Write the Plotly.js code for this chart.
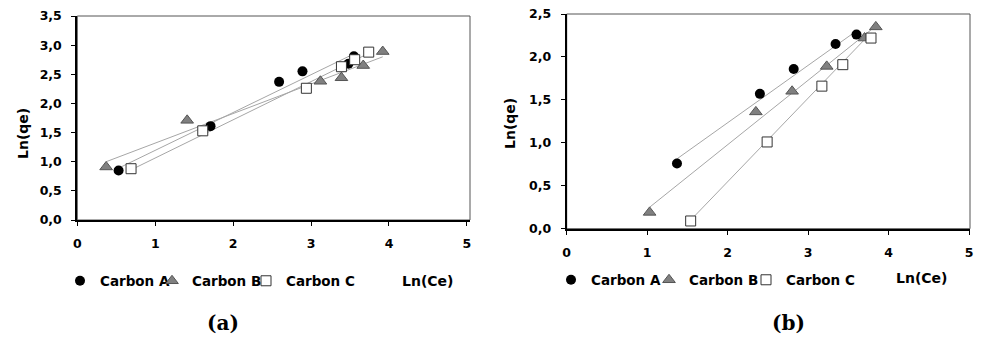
<!DOCTYPE html>
<html>
<head>
<meta charset="utf-8">
<script src="https://cdn.plot.ly/plotly-3.0.1.min.js"></script>
<style>html,body{margin:0;padding:0;background:#fff;}#chart{width:986px;height:338px;}</style>
</head>
<body>
<div id="chart"></div>
<script>
// ---------- Data ----------
var seriesNames = ["Carbon A", "Carbon B", "Carbon C"];
var xTicks = [0, 1, 2, 3, 4, 5];

// Panel (a)
var aA_x = [0.53, 1.71, 2.59, 2.89, 3.48, 3.55];
var aA_y = [0.85, 1.61, 2.37, 2.55, 2.68, 2.81];
var aB_x = [0.37, 1.41, 3.12, 3.39, 3.67, 3.92];
var aB_y = [0.91, 1.71, 2.38, 2.44, 2.65, 2.89];
var aC_x = [0.69, 1.61, 2.94, 3.39, 3.56, 3.74];
var aC_y = [0.88, 1.53, 2.26, 2.63, 2.75, 2.88];
// trend lines (a), end points
var aFitA_x = [0.53, 3.55], aFitA_y = [0.89, 2.85];
var aFitB_x = [0.37, 3.92], aFitB_y = [1.00, 2.80];
var aFitC_x = [0.69, 3.74], aFitC_y = [0.86, 2.86];

// Panel (b)
var bA_x = [1.37, 2.40, 2.82, 3.34, 3.60];
var bA_y = [0.76, 1.57, 1.86, 2.15, 2.26];
var bB_x = [1.03, 2.35, 2.80, 3.23, 3.70, 3.84];
var bB_y = [0.19, 1.36, 1.60, 1.89, 2.22, 2.35];
var bC_x = [1.54, 2.49, 3.17, 3.43, 3.78];
var bC_y = [0.09, 1.01, 1.66, 1.91, 2.22];
// trend lines (b), end points
var bFitA_x = [1.35, 3.61], bFitA_y = [0.80, 2.31];
var bFitB_x = [1.03, 3.84], bFitB_y = [0.25, 2.36];
var bFitC_x = [1.54, 3.78], bFitC_y = [0.10, 2.28];

// ---------- Styles ----------
var W = 986, H = 338;
var SANS = "DejaVu Sans, Arial, sans-serif";
var SERIF = "DejaVu Serif, Times New Roman, serif";
var lineStyle = {color: "#a6a6a6", width: 1};
var markerStyles = [
  {symbol: "circle", size: 10, color: "#000000", line: {width: 0}},
  {symbol: "triangle-up", size: 11, color: "#808080", line: {color: "#555555", width: 1}},
  {symbol: "square", size: 10, color: "#ffffff", line: {color: "#333333", width: 1}}
];

function fitTrace(x, y, xa, ya) {
  return {x: x, y: y, type: "scatter", mode: "lines", line: lineStyle,
          xaxis: xa, yaxis: ya, showlegend: false, hoverinfo: "skip"};
}
function ptTrace(x, y, i, xa, ya, leg) {
  return {x: x, y: y, type: "scatter", mode: "markers", name: seriesNames[i],
          marker: markerStyles[i], xaxis: xa, yaxis: ya, legend: leg};
}

var data = [
  fitTrace(aFitA_x, aFitA_y, "x", "y"),
  fitTrace(aFitB_x, aFitB_y, "x", "y"),
  fitTrace(aFitC_x, aFitC_y, "x", "y"),
  ptTrace(aA_x, aA_y, 0, "x", "y", "legend"),
  ptTrace(aB_x, aB_y, 1, "x", "y", "legend2"),
  ptTrace(aC_x, aC_y, 2, "x", "y", "legend3"),
  fitTrace(bFitA_x, bFitA_y, "x2", "y2"),
  fitTrace(bFitB_x, bFitB_y, "x2", "y2"),
  fitTrace(bFitC_x, bFitC_y, "x2", "y2"),
  ptTrace(bA_x, bA_y, 0, "x2", "y2", "legend4"),
  ptTrace(bB_x, bB_y, 1, "x2", "y2", "legend5"),
  ptTrace(bC_x, bC_y, 2, "x2", "y2", "legend6")
];

var tickFont = {family: SANS, size: 12.5, color: "#000", weight: "bold"};
function xAxis(domain, range, anchor) {
  return {domain: domain, range: range, anchor: anchor, tickvals: xTicks, ticktext: xTicks.map(String),
          ticks: "outside", ticklen: 4, tickwidth: 1, tickcolor: "#000",
          showline: true, linecolor: "#000", linewidth: 2, showgrid: false, zeroline: false,
          tickfont: tickFont, ticklabelstandoff: 7, fixedrange: true};
}
function yAxis(domain, range, anchor) {
  return {domain: domain, range: range, anchor: anchor, dtick: 0.5, tick0: 0, tickformat: ".1f",
          ticks: "outside", ticklen: 4, tickwidth: 1, tickcolor: "#000",
          showline: true, linecolor: "#000", linewidth: 2, showgrid: false, zeroline: false,
          tickfont: tickFont, ticklabelstandoff: 7, fixedrange: true};
}
function px(v) { return v / W; }
function py(v) { return (H - v) / H; }

var legFont = {family: SANS, size: 13.5, color: "#000", weight: "bold"};
var titleFont = {family: SANS, size: 14, color: "#000", weight: "bold"};
var panelFont = {family: SERIF, size: 20, color: "#000", weight: "bold"};

function legendAt(xLeft, yMid) {
  return {orientation: "h", x: px(xLeft), xanchor: "left", y: py(yMid), yanchor: "middle",
          font: legFont, bgcolor: "rgba(0,0,0,0)", itemwidth: 30, borderwidth: 0};
}

var layout = {
  width: W, height: H,
  margin: {l: 0, r: 0, t: 0, b: 0},
  paper_bgcolor: "#fff", plot_bgcolor: "#fff",
  separators: ", ",
  xaxis: xAxis([px(77.3), px(470)], [0, 5.04], "y"),
  yaxis: yAxis([py(220), py(16)], [0, 3.5], "x"),
  xaxis2: xAxis([px(566.7), px(970)], [0, 5.01], "y2"),
  yaxis2: yAxis([py(228.7), py(14)], [0, 2.5], "x2"),
  legend: legendAt(60, 281),
  legend2: legendAt(152, 281),
  legend3: legendAt(246, 281),
  legend4: legendAt(551, 280),
  legend5: legendAt(649, 280),
  legend6: legendAt(746, 280),
  shapes: [
    {type: "rect", xref: "x domain", yref: "y domain", x0: 0, x1: 1, y0: 0, y1: 1,
     line: {color: "#555", width: 1}, layer: "below"},
    {type: "rect", xref: "x2 domain", yref: "y2 domain", x0: 0, x1: 1, y0: 0, y1: 1,
     line: {color: "#555", width: 1}, layer: "below"}
  ],
  annotations: [
    {text: "Ln(qe)", xref: "paper", yref: "paper", x: px(23), y: py(134), textangle: -90,
     showarrow: false, font: titleFont, xanchor: "center", yanchor: "middle"},
    {text: "Ln(qe)", xref: "paper", yref: "paper", x: px(510), y: py(124), textangle: -90,
     showarrow: false, font: titleFont, xanchor: "center", yanchor: "middle"},
    {text: "Ln(Ce)", xref: "paper", yref: "paper", x: px(427), y: py(281),
     showarrow: false, font: titleFont, xanchor: "center", yanchor: "middle"},
    {text: "Ln(Ce)", xref: "paper", yref: "paper", x: px(921), y: py(278),
     showarrow: false, font: titleFont, xanchor: "center", yanchor: "middle"},
    {text: "(a)", xref: "paper", yref: "paper", x: px(223), y: py(323),
     showarrow: false, font: panelFont, xanchor: "center", yanchor: "middle"},
    {text: "(b)", xref: "paper", yref: "paper", x: px(788), y: py(323),
     showarrow: false, font: panelFont, xanchor: "center", yanchor: "middle"}
  ]
};

Plotly.newPlot("chart", data, layout, {displayModeBar: false, staticPlot: true});
</script>
</body>
</html>
